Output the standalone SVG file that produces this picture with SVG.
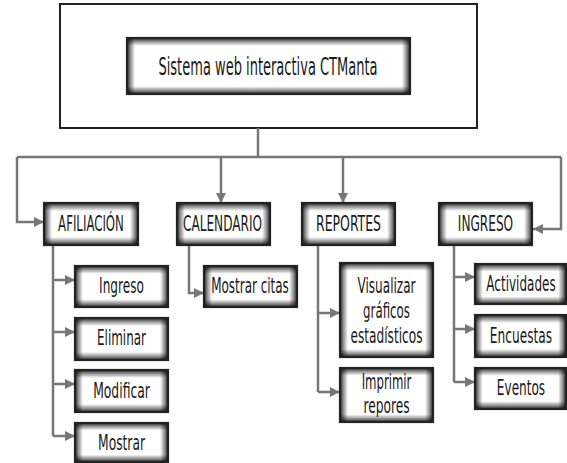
<svg xmlns="http://www.w3.org/2000/svg" width="567" height="463" viewBox="0 0 567 463">
<defs>
<linearGradient id="gh" x1="0" y1="0" x2="1" y2="0">
<stop offset="0" stop-color="#000" stop-opacity="0.85"/><stop offset="0.035" stop-color="#000" stop-opacity="0.45"/><stop offset="0.085" stop-color="#000" stop-opacity="0"/>
<stop offset="0.915" stop-color="#000" stop-opacity="0"/><stop offset="0.965" stop-color="#000" stop-opacity="0.45"/><stop offset="1" stop-color="#000" stop-opacity="0.85"/>
</linearGradient>
<linearGradient id="ght" x1="0" y1="0" x2="1" y2="0">
<stop offset="0" stop-color="#000" stop-opacity="0.85"/><stop offset="0.012" stop-color="#000" stop-opacity="0.45"/><stop offset="0.028" stop-color="#000" stop-opacity="0"/>
<stop offset="0.972" stop-color="#000" stop-opacity="0"/><stop offset="0.988" stop-color="#000" stop-opacity="0.45"/><stop offset="1" stop-color="#000" stop-opacity="0.85"/>
</linearGradient>
<linearGradient id="gv41" x1="0" y1="0" x2="0" y2="1">
<stop offset="0" stop-color="#000" stop-opacity="0.85"/><stop offset="0.08" stop-color="#000" stop-opacity="0.45"/><stop offset="0.19" stop-color="#000" stop-opacity="0"/>
<stop offset="0.81" stop-color="#000" stop-opacity="0"/><stop offset="0.92" stop-color="#000" stop-opacity="0.45"/><stop offset="1" stop-color="#000" stop-opacity="0.85"/>
</linearGradient>
<linearGradient id="gv55" x1="0" y1="0" x2="0" y2="1">
<stop offset="0" stop-color="#000" stop-opacity="0.85"/><stop offset="0.06" stop-color="#000" stop-opacity="0.45"/><stop offset="0.14" stop-color="#000" stop-opacity="0"/>
<stop offset="0.86" stop-color="#000" stop-opacity="0"/><stop offset="0.94" stop-color="#000" stop-opacity="0.45"/><stop offset="1" stop-color="#000" stop-opacity="0.85"/>
</linearGradient>
<linearGradient id="gv94" x1="0" y1="0" x2="0" y2="1">
<stop offset="0" stop-color="#000" stop-opacity="0.85"/><stop offset="0.035" stop-color="#000" stop-opacity="0.45"/><stop offset="0.083" stop-color="#000" stop-opacity="0"/>
<stop offset="0.917" stop-color="#000" stop-opacity="0"/><stop offset="0.965" stop-color="#000" stop-opacity="0.45"/><stop offset="1" stop-color="#000" stop-opacity="0.85"/>
</linearGradient>
<marker id="ah" viewBox="0 0 10 10" refX="10" refY="5" markerWidth="4" markerHeight="4.4" orient="auto" markerUnits="strokeWidth">
<path d="M0,0 L10,5 L0,10 z" fill="#777"/>
</marker>
</defs>
<style>
.bd{fill:none;stroke:#222;stroke-width:2.2}
.w{fill:#fff}
.h{fill:url(#gh)}
.ht{fill:url(#ght)}
.v41{fill:url(#gv41)}
.v55{fill:url(#gv55)}
.v94{fill:url(#gv94)}
.t{font-family:"Liberation Sans Narrow","DejaVu Sans Condensed","Liberation Sans",sans-serif;font-size:21px;fill:#1a1a1a;text-anchor:middle}
.tt{font-family:"Liberation Sans Narrow","DejaVu Sans Condensed","Liberation Sans",sans-serif;font-size:25px;fill:#1a1a1a;text-anchor:middle}
.c{fill:none;stroke:#777;stroke-width:2.5}
.ca{fill:none;stroke:#777;stroke-width:2.5;marker-end:url(#ah)}
</style>
<rect width="567" height="463" fill="#fff"/>
<g id="outer"><rect x="60" y="4" width="417" height="124" fill="#fff" stroke="#222" stroke-width="2"/></g>
<g id="connectors">
<path class="c" d="M258,128 V157" stroke-width="1.5"/>
<path class="c" d="M17,157 H561"/>
<path class="ca" d="M17,157 V222 H44"/>
<path class="ca" d="M221,157 V203"/>
<path class="ca" d="M343,157 V203"/>
<path class="ca" d="M561,157 V229 H533"/>
<path class="c" d="M53,245 V436"/>
<path class="ca" d="M53,280 H75"/>
<path class="ca" d="M53,332 H75"/>
<path class="ca" d="M53,384 H75"/>
<path class="ca" d="M53,436 H75"/>
<path class="ca" d="M189,245 V293 H204"/>
<path class="c" d="M318,245 V392"/>
<path class="ca" d="M318,313 H340"/>
<path class="ca" d="M318,392 H340"/>
<path class="c" d="M454,245 V382"/>
<path class="ca" d="M454,277 H475"/>
<path class="ca" d="M454,329 H475"/>
<path class="ca" d="M454,382 H475"/>
</g>
<g id="title"><rect class="w" x="127" y="38" width="283" height="56"/><rect class="ht" x="127" y="38" width="283" height="56"/><rect class="v55" x="127" y="38" width="283" height="56"/><rect class="bd" x="127" y="38" width="283" height="56"/><text class="tt" transform="translate(268,75) scale(0.7,1)" textLength="313" lengthAdjust="spacingAndGlyphs">Sistema web interactiva CTManta</text></g>
<g id="afiliacion"><rect class="w" x="44" y="203" width="94" height="42"/><rect class="h" x="44" y="203" width="94" height="42"/><rect class="v41" x="44" y="203" width="94" height="42"/><rect class="bd" x="44" y="203" width="94" height="42"/><text class="t" transform="translate(91,231) scale(0.7,1)" textLength="94" lengthAdjust="spacingAndGlyphs">AFILIACIÓN</text></g>
<g id="calendario"><rect class="w" x="177" y="203" width="93" height="42"/><rect class="h" x="177" y="203" width="93" height="42"/><rect class="v41" x="177" y="203" width="93" height="42"/><rect class="bd" x="177" y="203" width="93" height="42"/><text class="t" transform="translate(222.5,231) scale(0.7,1)" textLength="113" lengthAdjust="spacingAndGlyphs">CALENDARIO</text></g>
<g id="reportes"><rect class="w" x="302" y="203" width="93" height="42"/><rect class="h" x="302" y="203" width="93" height="42"/><rect class="v41" x="302" y="203" width="93" height="42"/><rect class="bd" x="302" y="203" width="93" height="42"/><text class="t" transform="translate(348.5,231) scale(0.7,1)" textLength="93" lengthAdjust="spacingAndGlyphs">REPORTES</text></g>
<g id="ingreso-main"><rect class="w" x="439" y="203" width="93" height="42"/><rect class="h" x="439" y="203" width="93" height="42"/><rect class="v41" x="439" y="203" width="93" height="42"/><rect class="bd" x="439" y="203" width="93" height="42"/><text class="t" transform="translate(485.5,231) scale(0.7,1)" textLength="79" lengthAdjust="spacingAndGlyphs">INGRESO</text></g>
<g id="ingreso"><rect class="w" x="75" y="266" width="93" height="41"/><rect class="h" x="75" y="266" width="93" height="41"/><rect class="v41" x="75" y="266" width="93" height="41"/><rect class="bd" x="75" y="266" width="93" height="41"/><text class="t" transform="translate(121.5,293) scale(0.7,1)" textLength="64" lengthAdjust="spacingAndGlyphs">Ingreso</text></g>
<g id="eliminar"><rect class="w" x="75" y="318" width="93" height="42"/><rect class="h" x="75" y="318" width="93" height="42"/><rect class="v41" x="75" y="318" width="93" height="42"/><rect class="bd" x="75" y="318" width="93" height="42"/><text class="t" transform="translate(121.5,345) scale(0.7,1)" textLength="70" lengthAdjust="spacingAndGlyphs">Eliminar</text></g>
<g id="modificar"><rect class="w" x="75" y="370" width="93" height="42"/><rect class="h" x="75" y="370" width="93" height="42"/><rect class="v41" x="75" y="370" width="93" height="42"/><rect class="bd" x="75" y="370" width="93" height="42"/><text class="t" transform="translate(121.5,398) scale(0.7,1)" textLength="81" lengthAdjust="spacingAndGlyphs">Modificar</text></g>
<g id="mostrar"><rect class="w" x="75" y="423" width="93" height="39"/><rect class="h" x="75" y="423" width="93" height="39"/><rect class="v41" x="75" y="423" width="93" height="39"/><rect class="bd" x="75" y="423" width="93" height="39"/><text class="t" transform="translate(121.5,450) scale(0.7,1)" textLength="67" lengthAdjust="spacingAndGlyphs">Mostrar</text></g>
<g id="mostrar-citas"><rect class="w" x="204" y="266" width="93" height="41"/><rect class="h" x="204" y="266" width="93" height="41"/><rect class="v41" x="204" y="266" width="93" height="41"/><rect class="bd" x="204" y="266" width="93" height="41"/><text class="t" transform="translate(250,293) scale(0.7,1)" textLength="111" lengthAdjust="spacingAndGlyphs">Mostrar citas</text></g>
<g id="visualizar"><rect class="w" x="340" y="263" width="93" height="94"/><rect class="h" x="340" y="263" width="93" height="94"/><rect class="v94" x="340" y="263" width="93" height="94"/><rect class="bd" x="340" y="263" width="93" height="94"/><text class="t" transform="translate(386.5,293) scale(0.7,1)" textLength="83" lengthAdjust="spacingAndGlyphs">Visualizar</text><text class="t" transform="translate(386.5,318) scale(0.7,1)" textLength="67" lengthAdjust="spacingAndGlyphs">gráficos</text><text class="t" transform="translate(386.5,343) scale(0.7,1)" textLength="103" lengthAdjust="spacingAndGlyphs">estadísticos</text></g>
<g id="imprimir"><rect class="w" x="340" y="368" width="93" height="54"/><rect class="h" x="340" y="368" width="93" height="54"/><rect class="v55" x="340" y="368" width="93" height="54"/><rect class="bd" x="340" y="368" width="93" height="54"/><text class="t" transform="translate(386.5,389) scale(0.7,1)" textLength="71" lengthAdjust="spacingAndGlyphs">Imprimir</text><text class="t" transform="translate(386.5,413) scale(0.7,1)" textLength="66" lengthAdjust="spacingAndGlyphs">repores</text></g>
<g id="actividades"><rect class="w" x="475" y="264" width="91" height="40"/><rect class="h" x="475" y="264" width="91" height="40"/><rect class="v41" x="475" y="264" width="91" height="40"/><rect class="bd" x="475" y="264" width="91" height="40"/><text class="t" transform="translate(521,291) scale(0.7,1)" textLength="99" lengthAdjust="spacingAndGlyphs">Actividades</text></g>
<g id="encuestas"><rect class="w" x="475" y="315" width="91" height="42"/><rect class="h" x="475" y="315" width="91" height="42"/><rect class="v41" x="475" y="315" width="91" height="42"/><rect class="bd" x="475" y="315" width="91" height="42"/><text class="t" transform="translate(521,343) scale(0.7,1)" textLength="89" lengthAdjust="spacingAndGlyphs">Encuestas</text></g>
<g id="eventos"><rect class="w" x="475" y="368" width="91" height="41"/><rect class="h" x="475" y="368" width="91" height="41"/><rect class="v41" x="475" y="368" width="91" height="41"/><rect class="bd" x="475" y="368" width="91" height="41"/><text class="t" transform="translate(521,395) scale(0.7,1)" textLength="69" lengthAdjust="spacingAndGlyphs">Eventos</text></g>
</svg>
